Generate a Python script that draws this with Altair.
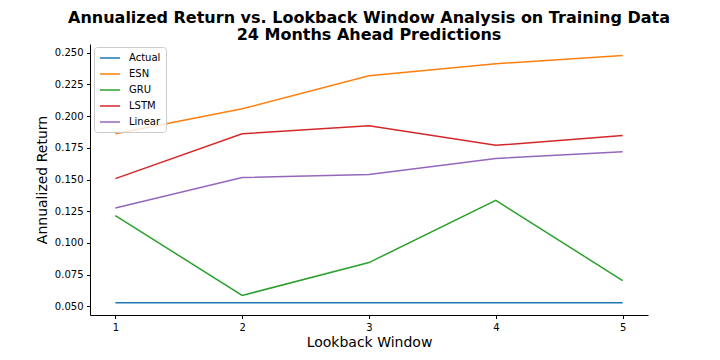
import altair as alt
import pandas as pd

windows = [1, 2, 3, 4, 5]
series_names = ["Actual", "ESN", "GRU", "LSTM", "Linear"]
actual = [0.053, 0.053, 0.053, 0.053, 0.053]
esn = [0.186, 0.2057, 0.2317, 0.2412, 0.2476]
gru = [0.1216, 0.0587, 0.0846, 0.1336, 0.0704]
lstm = [0.1507, 0.186, 0.1924, 0.1769, 0.1847]
linear = [0.1276, 0.1515, 0.154, 0.1666, 0.1719]
colors = ["#1f77b4", "#ff7f0e", "#2ca02c", "#d62728", "#9467bd"]

values = {"Actual": actual, "ESN": esn, "GRU": gru, "LSTM": lstm, "Linear": linear}
rows = []
for name in series_names:
    for w, v in zip(windows, values[name]):
        rows.append({"window": w, "ret": v, "model": name})
df = pd.DataFrame(rows)

FONT = "DejaVu Sans"

chart = alt.Chart(df).mark_line(strokeWidth=1.5).encode(
    x=alt.X("window:Q",
            scale=alt.Scale(domain=[0.8, 5.2], nice=False, zero=False),
            axis=alt.Axis(values=windows, format="d", title="Lookback Window",
                          grid=False, tickSize=3.5, labelPadding=3.5,
                          titlePadding=3)),
    y=alt.Y("ret:Q",
            scale=alt.Scale(domain=[0.0433, 0.2567], nice=False, zero=False),
            axis=alt.Axis(values=[0.05, 0.075, 0.1, 0.125, 0.15, 0.175, 0.2, 0.225, 0.25],
                          format=".3f", title="Annualized Return", grid=False,
                          tickSize=3.5, labelPadding=3.5, titlePadding=5)),
    color=alt.Color("model:N",
                    scale=alt.Scale(domain=series_names, range=colors),
                    legend=alt.Legend(title=None, orient="none", legendX=4, legendY=3,
                                      symbolType="M-1,0L3,0", symbolSize=100,
                                      symbolStrokeWidth=1.5, labelOffset=18,
                                      labelFontSize=10, labelFont=FONT,
                                      labelColor="black", padding=5, rowPadding=5,
                                      strokeColor="#cccccc", fillColor="rgba(255,255,255,0.8)",
                                      cornerRadius=3)),
    order=alt.Order("window:Q"),
).properties(
    width=558,
    height=271,
    title=alt.TitleParams(
        text=["Annualized Return vs. Lookback Window Analysis on Training Data",
              "24 Months Ahead Predictions"],
        fontSize=16, font=FONT, fontWeight="bold", anchor="middle",
        color="black", lineHeight=17.5, offset=1, limit=900),
    autosize=alt.AutoSizeParams(type="none"),
    padding={"left": 82, "top": 36, "right": 64, "bottom": 37},
).configure_view(
    stroke=None
).configure_axis(
    domainColor="black", tickColor="black", labelColor="black", titleColor="black",
    labelFont=FONT, titleFont=FONT, labelFontSize=10, titleFontSize=14,
    titleFontWeight="normal", domainWidth=1, tickWidth=1
)

chart.save("out.html", embed_options={"renderer": "svg", "actions": False})
